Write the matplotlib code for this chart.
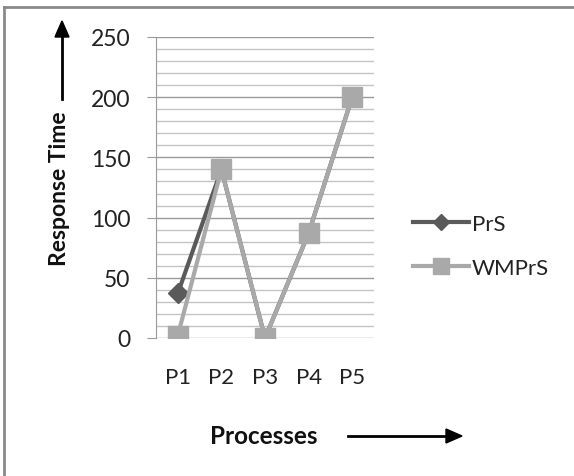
import matplotlib
matplotlib.use("Agg")
import matplotlib.pyplot as plt
from matplotlib.lines import Line2D
from matplotlib.patches import FancyArrow

categories = ["P1", "P2", "P3", "P4", "P5"]
prs = [37, 140, 0, 87, 200]
wmprs = [2, 140, 0, 87, 200]
yticks = [0, 50, 100, 150, 200, 250]

plt.rcParams['font.family'] = ['Lato', 'DejaVu Sans']

W, H = 574, 477
fig = plt.figure(figsize=(W / 100, H / 100), dpi=100)
ax = fig.add_axes([156 / W, 1 - 339 / H, (374 - 156) / W, (339 - 38) / H])

x = list(range(len(categories)))
ax.plot(x, prs, color="#5a5a5a", lw=3, marker="D", ms=10, mfc="#5a5a5a", mec="#5a5a5a", zorder=3, label="PrS")
ax.plot(x, wmprs, color="#a9a9a9", lw=3, marker="s", ms=14, mfc="#a9a9a9", mec="#a9a9a9", zorder=4, label="WMPrS")

ax.set_xlim(-0.5, len(categories) - 0.5)
ax.set_ylim(0, 250)
ax.set_yticks(yticks)
ax.set_yticks(range(0, 251, 10), minor=True)
ax.set_xticks(x)
ax.set_xticklabels(categories)
ax.grid(True, which="major", axis="y", color="#9a9a9a", lw=1)
ax.grid(True, which="minor", axis="y", color="#c4c4c4", lw=1)
ax.set_axisbelow(True)
for s in ["top", "right", "bottom"]:
    ax.spines[s].set_visible(False)
ax.spines["left"].set_color("#9a9a9a")
ax.tick_params(axis="y", which="major", length=6.5, color="#9a9a9a", labelsize=16.5, pad=12, labelcolor="#222222")
ax.tick_params(axis="y", which="minor", length=0)
ax.tick_params(axis="x", length=0, labelsize=16, pad=21, labelcolor="#222222")

# legend
handles = [Line2D([0], [0], color="#5a5a5a", lw=3, marker="D", ms=8),
           Line2D([0], [0], color="#a9a9a9", lw=3, marker="s", ms=12)]
fig.legend(handles, ["PrS", "WMPrS"], loc="center left", bbox_to_anchor=(413 / W, 1 - 247 / H),
           frameon=False, fontsize=16, handlelength=2.5, handletextpad=0.15, labelspacing=1.1,
           borderpad=0, borderaxespad=0, labelcolor="#222222")

# axis titles
fig.text(59 / W, 1 - 189 / H, "Response Time", rotation=90, ha="center", va="center",
         fontsize=16.5, fontweight="bold", color="#111111")
fig.add_artist(Line2D([62 / W, 62 / W], [1 - 100 / H, 1 - 36 / H], color="black", lw=2, transform=fig.transFigure))
fig.patches.append(FancyArrow(62 / W, 1 - 38 / H, 0, 16 / H, width=0, head_width=14 / W, head_length=16 / H,
                              length_includes_head=True, color="black", transform=fig.transFigure))
fig.text(264 / W, 1 - 437 / H, "Processes", ha="center", va="center", fontsize=17.5,
         fontweight="bold", color="#111111")
fig.add_artist(Line2D([348 / W, 450 / W], [1 - 437 / H, 1 - 437 / H], color="black", lw=2, transform=fig.transFigure))
fig.patches.append(FancyArrow(446 / W, 1 - 437 / H, 16 / W, 0, width=0, head_width=14 / H, head_length=16 / W,
                              length_includes_head=True, color="black", transform=fig.transFigure))

# outer border (top and left visible)
fig.add_artist(Line2D([3.5 / W, 3.5 / W], [0, 1 - 7.5 / H], color="#8a8a8a", lw=2, transform=fig.transFigure))
fig.add_artist(Line2D([3.5 / W, 1], [1 - 7.5 / H, 1 - 7.5 / H], color="#8a8a8a", lw=2, transform=fig.transFigure))

fig.savefig("out.png", dpi=100)
